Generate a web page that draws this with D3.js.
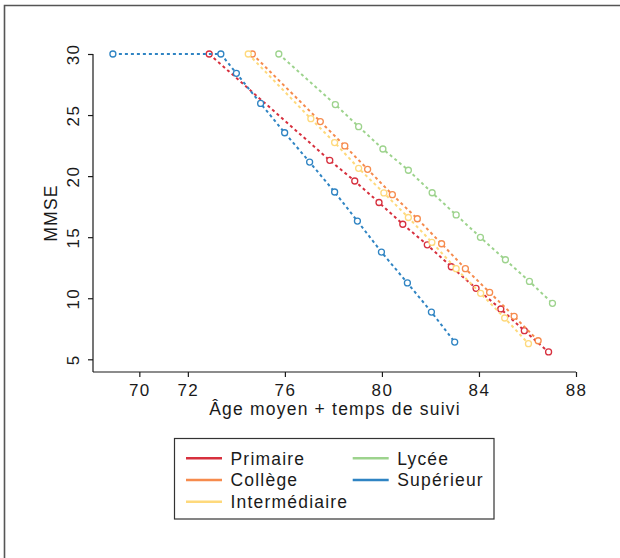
<!DOCTYPE html>
<html>
<head>
<meta charset="utf-8">
<script src="https://cdn.jsdelivr.net/npm/d3@7"></script>
<style>
  html, body { margin: 0; padding: 0; background: #fff; }
  svg { display: block; }
  text { font-family: "Liberation Sans", Arial, Helvetica, sans-serif; fill: #1a1a1a; }
</style>
</head>
<body>
<svg id="chart" width="620" height="558"></svg>
<script>
// ---- Data ----
const seriesNames = ["Primaire", "Collège", "Intermédiaire", "Lycée", "Supérieur"];
const seriesColors = ["#d7303e", "#f68b4d", "#fed97c", "#9dd38d", "#2f84c3"];

const primaireAge  = [72.88, 77.85, 78.88, 79.88, 80.86, 81.87, 82.86, 83.88, 84.90, 85.87, 86.87];
const primaireMMSE = [30.0, 21.29, 19.60, 17.84, 16.06, 14.37, 12.58, 10.81, 9.12, 7.34, 5.60];

const collegeAge  = [74.66, 77.46, 78.47, 79.41, 80.43, 81.46, 82.46, 83.44, 84.44, 85.45, 86.44];
const collegeMMSE = [30.0, 24.47, 22.47, 20.56, 18.48, 16.51, 14.46, 12.42, 10.48, 8.52, 6.52];

const intermAge  = [74.49, 77.07, 78.05, 79.04, 80.08, 81.09, 82.06, 83.06, 84.07, 85.06, 86.04];
const intermMMSE = [30.0, 24.70, 22.75, 20.64, 18.62, 16.61, 14.58, 12.42, 10.40, 8.38, 6.28];

const lyceeAge  = [75.75, 78.08, 79.04, 80.04, 81.09, 82.07, 83.06, 84.06, 85.09, 86.08, 87.03];
const lyceeMMSE = [30.0, 25.86, 24.05, 22.22, 20.48, 18.64, 16.82, 14.99, 13.15, 11.38, 9.58];

const superieurAge  = [68.91, 73.36, 74.00, 75.00, 75.99, 77.02, 78.05, 78.99, 79.98, 81.05, 82.04, 83.00];
const superieurMMSE = [30.0, 30.0, 28.42, 25.95, 23.55, 21.15, 18.70, 16.32, 13.78, 11.25, 8.87, 6.41];

const xTicks = [70, 72, 76, 80, 84, 88];
const yTicks = [5, 10, 15, 20, 25, 30];
const xTitle = "Âge moyen + temps de suivi";
const yTitle = "MMSE";

const seriesAges = [primaireAge, collegeAge, intermAge, lyceeAge, superieurAge];
const seriesMMSE = [primaireMMSE, collegeMMSE, intermMMSE, lyceeMMSE, superieurMMSE];

// ---- Layout ----
const svg = d3.select("#chart");
const x = d3.scaleLinear().domain([68.09, 88]).range([93, 576]);
const y = d3.scaleLinear().domain([3.96, 30]).range([372, 54]);

// outer frame (left + top)
svg.append("path")
  .attr("d", "M4.5,558 L4.5,5.5 L620,5.5")
  .attr("fill", "none").attr("stroke", "#555").attr("stroke-width", 1.6);

const fontSize = "17.5px";
const tickFontSize = "17px";
const ls = "1.2px";

// x axis
const xAxis = svg.append("g").attr("transform", "translate(0,372)")
  .call(d3.axisBottom(x).tickValues(xTicks).tickSize(5).tickPadding(5).tickFormat(d3.format("d")));
xAxis.select(".domain").attr("d", `M${x.range()[0]},0H${x.range()[1]}`).attr("stroke", "#1a1a1a").attr("stroke-width", 1.2);
xAxis.selectAll(".tick line").attr("stroke", "#1a1a1a").attr("stroke-width", 1.2);
xAxis.selectAll(".tick text")
  .attr("y", null).attr("dy", null)
  .attr("transform", "translate(0,23.8)")
  .style("font-size", tickFontSize).style("letter-spacing", "1.4px")
  .style("font-family", "Liberation Sans, Arial, sans-serif").attr("fill", "#1a1a1a");

// y axis
const yAxis = svg.append("g").attr("transform", "translate(93,0)")
  .call(d3.axisLeft(y).tickValues(yTicks).tickSize(5).tickFormat(d3.format("d")));
yAxis.select(".domain").attr("d", `M0,${y.range()[0]}V${y.range()[1]}`).attr("stroke", "#1a1a1a").attr("stroke-width", 1.2);
yAxis.selectAll(".tick line").attr("stroke", "#1a1a1a").attr("stroke-width", 1.2);
yAxis.selectAll(".tick text")
  .attr("x", null).attr("dy", null)
  .attr("text-anchor", "middle")
  .attr("transform", "translate(-13.7,0) rotate(-90)")
  .style("font-size", tickFontSize).style("letter-spacing", "1.4px")
  .style("font-family", "Liberation Sans, Arial, sans-serif").attr("fill", "#1a1a1a");

// axis titles
svg.append("text")
  .attr("x", (x.range()[0] + x.range()[1]) / 2 + 0.5).attr("y", 415)
  .attr("text-anchor", "middle")
  .style("font-size", fontSize).style("letter-spacing", ls)
  .text(xTitle);

svg.append("text")
  .attr("transform", `translate(57.3,${(y.range()[0] + y.range()[1]) / 2}) rotate(-90)`)
  .attr("text-anchor", "middle")
  .style("font-size", fontSize).style("letter-spacing", ls)
  .text(yTitle);

// series
const line = d3.line().x(d => x(d[0])).y(d => y(d[1]));
seriesNames.forEach((name, i) => {
  const pts = seriesAges[i].map((a, j) => [a, seriesMMSE[i][j]]);
  const g = svg.append("g").attr("class", "series");
  g.append("path").datum(pts)
    .attr("d", line)
    .attr("fill", "none")
    .attr("stroke", seriesColors[i])
    .attr("stroke-width", 2)
    .attr("stroke-dasharray", "3,3");
  g.selectAll("circle").data(pts).enter().append("circle")
    .attr("cx", d => x(d[0])).attr("cy", d => y(d[1]))
    .attr("r", 3)
    .attr("fill", "#fff")
    .attr("stroke", seriesColors[i])
    .attr("stroke-width", 1.3);
});

// legend
const legend = svg.append("g");
legend.append("rect")
  .attr("x", 174.5).attr("y", 438.5).attr("width", 319.5).attr("height", 80.5)
  .attr("fill", "#fff").attr("stroke", "#333").attr("stroke-width", 1.2);

const legendPos = [
  { col: 0, row: 0 }, { col: 0, row: 1 }, { col: 0, row: 2 },
  { col: 1, row: 0 }, { col: 1, row: 1 }
];
const colX = [186, 352.7];
const rowY = [458.3, 480, 501.7];
seriesNames.forEach((name, i) => {
  const p = legendPos[i];
  const lx = colX[p.col], ly = rowY[p.row];
  legend.append("line")
    .attr("x1", lx).attr("x2", lx + 36).attr("y1", ly).attr("y2", ly)
    .attr("stroke", seriesColors[i]).attr("stroke-width", 2.5);
  legend.append("text")
    .attr("x", lx + 44.5).attr("y", ly + 6.2)
    .style("font-size", fontSize).style("letter-spacing", ls)
    .text(name);
});
</script>
</body>
</html>
